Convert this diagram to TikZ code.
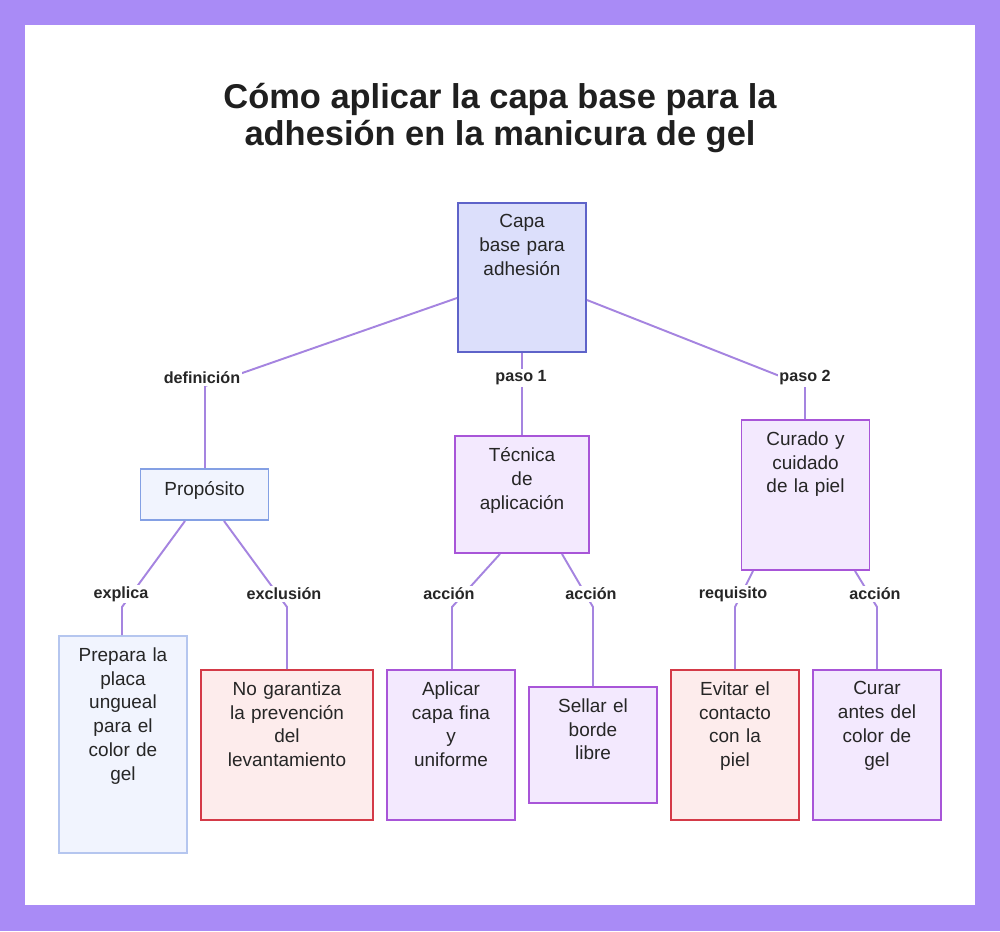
\documentclass[tikz,border=0pt]{standalone}
\usepackage{fontspec}
\setmainfont{Liberation Sans}
\usetikzlibrary{positioning}
\definecolor{frame}{HTML}{A98BF6}
\definecolor{edge}{HTML}{A584E0}
\definecolor{rootfill}{HTML}{DCDFFB}
\definecolor{rootline}{HTML}{5E63C9}
\definecolor{bluefill}{HTML}{F1F4FE}
\definecolor{blueline}{HTML}{84A0E4}
\definecolor{purfill}{HTML}{F3E9FE}
\definecolor{purline}{HTML}{A855D8}
\definecolor{redfill}{HTML}{FDECEC}
\definecolor{redline}{HTML}{D43A48}
\tikzset{
  box/.style={draw, line width=1.1pt, minimum width=128*0.02cm, inner sep=0pt},
  txt/.style={text width=120*0.02cm, align=center, inner sep=0pt, font=\fontsize{10.8}{13.6}\selectfont, text=black!85},
  elabel/.style={font=\bfseries\fontsize{9.2}{10}\selectfont, text=black!85, inner sep=1pt},
  wire/.style={draw=edge, line width=1.1pt}
}
\begin{document}
\begin{tikzpicture}[x=0.02cm,y=-0.02cm]
\useasboundingbox (0,0) rectangle (1000,931);
\fill[frame] (0,0) rectangle (1000,931);
\fill[white] (25,25) rectangle (975,905);
\node[font=\bfseries\fontsize{19.6}{21.5}\selectfont, align=center, text=black!88] (title) at (500,118)
  {Cómo aplicar la capa base para la\\adhesión en la manicura de gel};
% nodes
\node[box, fill=rootfill, draw=rootline, minimum height=149*0.02cm] (root) at (522,277.5) {};
\node[txt, below=12*0.02cm of root.north, anchor=north] (root-t) {Capa\\base para\\adhesión};
\node[box, fill=bluefill, draw=blueline, minimum height=51*0.02cm] (prop) at (204.5,494.5) {};
\node[txt] (prop-t) at (204.5,490) {Propósito};
\node[box, fill=purfill, draw=purline, minimum width=134*0.02cm, minimum height=117*0.02cm] (tec) at (522,494.5) {};
\node[txt, below=12*0.02cm of tec.north, anchor=north] (tec-t) {Técnica\\de\\aplicación};
\node[box, fill=purfill, draw=purline, minimum height=150*0.02cm] (cur) at (805.5,495) {};
\node[txt, below=12*0.02cm of cur.north, anchor=north] (cur-t) {Curado y\\cuidado\\de la piel};
\node[box, fill=bluefill, draw=blueline!60, minimum height=217*0.02cm] (prep) at (123,744.5) {};
\node[txt, below=12*0.02cm of prep.north, anchor=north] (prep-t) {Prepara la\\placa\\ungueal\\para el\\color de\\gel};
\node[box, fill=redfill, draw=redline, minimum width=172*0.02cm, minimum height=150*0.02cm] (nog) at (287,745) {};
\node[txt, text width=165*0.02cm, below=12*0.02cm of nog.north, anchor=north] (nog-t) {No garantiza\\la prevención\\del\\levantamiento};
\node[box, fill=purfill, draw=purline, minimum height=150*0.02cm] (apl) at (451,745) {};
\node[txt, below=12*0.02cm of apl.north, anchor=north] (apl-t) {Aplicar\\capa fina\\y\\uniforme};
\node[box, fill=purfill, draw=purline, minimum height=116*0.02cm] (sel) at (593,745) {};
\node[txt, below=12*0.02cm of sel.north, anchor=north] (sel-t) {Sellar el\\borde\\libre};
\node[box, fill=redfill, draw=redline, minimum height=150*0.02cm] (evi) at (735,745) {};
\node[txt, below=12*0.02cm of evi.north, anchor=north] (evi-t) {Evitar el\\contacto\\con la\\piel};
\node[box, fill=purfill, draw=purline, minimum height=150*0.02cm] (cura) at (877,745) {};
\node[txt, below=12*0.02cm of cura.north, anchor=north] (cura-t) {Curar\\antes del\\color de\\gel};
% bends
\coordinate (b1) at (205,386); \coordinate (b2) at (805,386);
\coordinate (c1) at (122,607); \coordinate (c2) at (287,607);
\coordinate (c3) at (452,607); \coordinate (c4) at (593,607);
\coordinate (c5) at (735,607); \coordinate (c6) at (877,607);
% connectors
\draw[wire] (root.west |- 0,298) -- (b1) -- (prop.north -| b1);
\draw[wire] (root.south) -- (tec.north);
\draw[wire] (root.east |- 0,300) -- (b2) -- (cur.north -| b2);
\draw[wire] (prop.south -| 185,0) -- (c1) -- (prep.north -| c1);
\draw[wire] (prop.south -| 224,0) -- (c2) -- (nog.north -| c2);
\draw[wire] (tec.south -| 500,0) -- (c3) -- (apl.north -| c3);
\draw[wire] (tec.south -| 562,0) -- (c4) -- (sel.north -| c4);
\draw[wire] (cur.south -| 753,0) -- (c5) -- (evi.north -| c5);
\draw[wire] (cur.south -| 855,0) -- (c6) -- (cura.north -| c6);
% labels
\node[elabel, fill=white] (l1) at (202,378) {definición};
\node[elabel, fill=white] (l2) at (521,378) {paso 1};
\node[elabel, fill=white] (l3) at (805,378) {paso 2};
\node[elabel, fill=white] (l4) at (121,594) {explica};
\node[elabel, fill=white] (l5) at (284,594) {exclusión};
\node[elabel, fill=white] (l6) at (449,594) {acción};
\node[elabel, fill=white] (l7) at (591,594) {acción};
\node[elabel, fill=white] (l8) at (733,594) {requisito};
\node[elabel, fill=white] (l9) at (875,594) {acción};
\end{tikzpicture}
\end{document}
